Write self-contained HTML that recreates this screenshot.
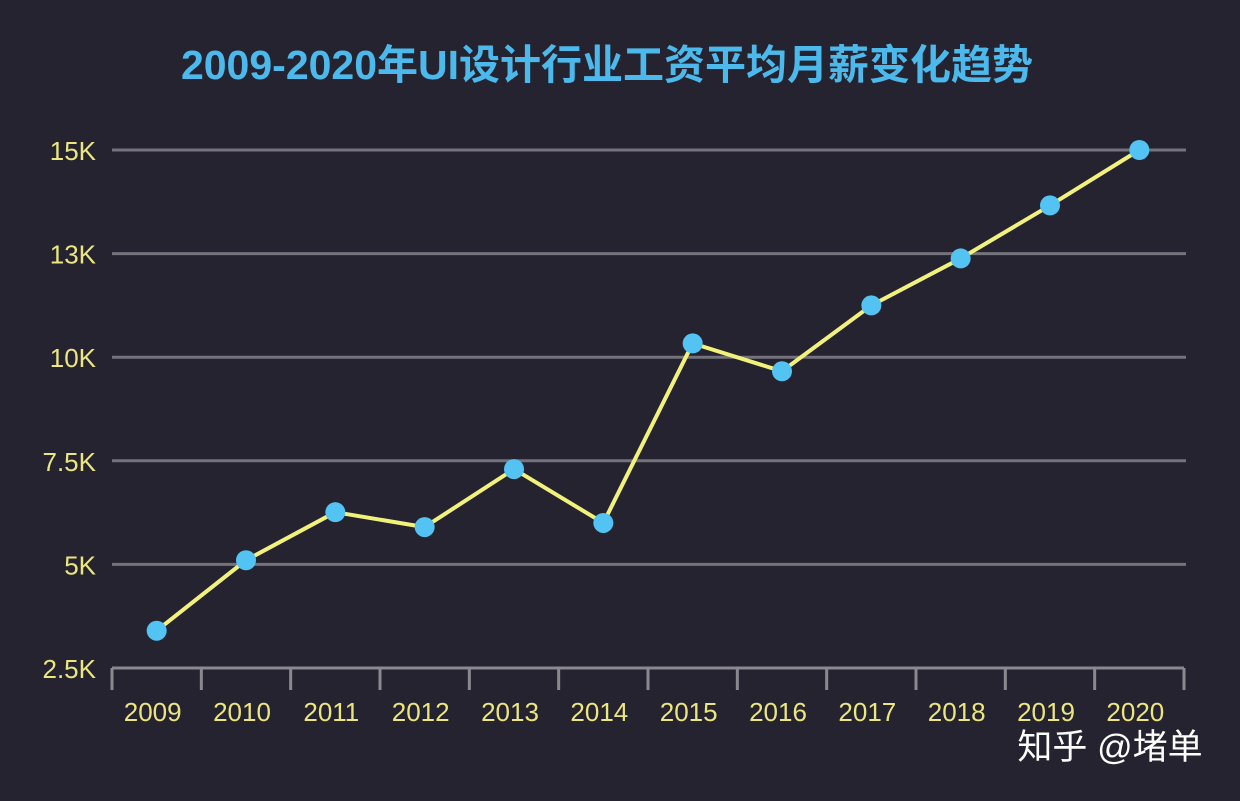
<!DOCTYPE html>
<html><head><meta charset="utf-8"><style>
html,body{margin:0;padding:0;background:#24232f;width:1240px;height:801px;overflow:hidden}
svg{display:block}
text{font-family:"Liberation Sans","Noto Sans CJK SC",sans-serif}
</style></head><body>
<svg id="chart" width="1240" height="801" viewBox="0 0 1240 801">
<rect width="1240" height="801" fill="#24232f"/>
<text x="607" y="79" text-anchor="middle" font-size="41" font-weight="bold" fill="#4cb9ec" style="font-family:'Liberation Sans','Noto Sans CJK SC',sans-serif">2009-2020年UI设计行业工资平均月薪变化趋势</text>
<g id="grid"></g><g id="axes"></g><g id="series"></g>
<text x="1110" y="759" text-anchor="middle" font-size="35" fill="#ffffff">知乎 @堵单</text>
</svg>
<script>
const years=['2009','2010','2011','2012','2013','2014','2015','2016','2017','2018','2019','2020'];
const salaries=[3.4,5.1,6.26,5.9,7.3,6.0,10.4,9.66,11.5,12.86,13.93,15];
const tickValues=[2.5,5,7.5,10,13,15];
const tickLabels=['2.5K','5K','7.5K','10K','13K','15K'];
const NS='http://www.w3.org/2000/svg';
const x0=112,x1=1184,yBottom=668,yTop=150;
const band=(x1-x0)/years.length;
function xScale(i){return x0+band*(i+0.5);}
function yScale(v){
  const n=tickValues.length, step=(yBottom-yTop)/(n-1);
  for(let k=0;k<n-1;k++){
    if(v<=tickValues[k+1]||k===n-2){
      const t=(v-tickValues[k])/(tickValues[k+1]-tickValues[k]);
      return yBottom-step*(k+t);
    }
  }
}
function mk(tag,attrs,parent){const e=document.createElementNS(NS,tag);for(const k in attrs)e.setAttribute(k,attrs[k]);parent.appendChild(e);return e;}
const grid=document.getElementById('grid'),axes=document.getElementById('axes'),series=document.getElementById('series');
tickValues.forEach((v,i)=>{
  const y=yScale(v);
  if(i>0){const l=mk('line',{x1:x0,x2:1186,y1:y,y2:y,stroke:'#74737b','stroke-width':3},grid);
  
  }
  const t=mk('text',{x:96,y:y+10,'text-anchor':'end','font-size':26,fill:'#ece67e'},axes);
  t.textContent=tickLabels[i];
  
  
});
const ax=mk('line',{x1:x0,x2:x1,y1:yBottom,y2:yBottom,stroke:'#8a8990','stroke-width':3},axes);


for(let i=0;i<=years.length;i++){
  const x=x0+band*i;
  const tk=mk('line',{x1:x,x2:x,y1:yBottom,y2:690,stroke:'#8a8990','stroke-width':3},axes);
  
  
}
years.forEach((y,i)=>{
  const t=mk('text',{x:xScale(i)-4,y:721,'text-anchor':'middle','font-size':26,fill:'#ece67e'},axes);
  t.textContent=y;
  
  
});
const pts=salaries.map((v,i)=>xScale(i)+','+yScale(v)).join(' ');
const pl=mk('polyline',{points:pts,fill:'none',stroke:'#f2f27a','stroke-width':4,'stroke-linejoin':'round'},series);


salaries.forEach((v,i)=>{
  const c=mk('circle',{cx:xScale(i),cy:yScale(v),r:10,fill:'#52c3f2'},series);
  
  
});
</script>
</body></html>
